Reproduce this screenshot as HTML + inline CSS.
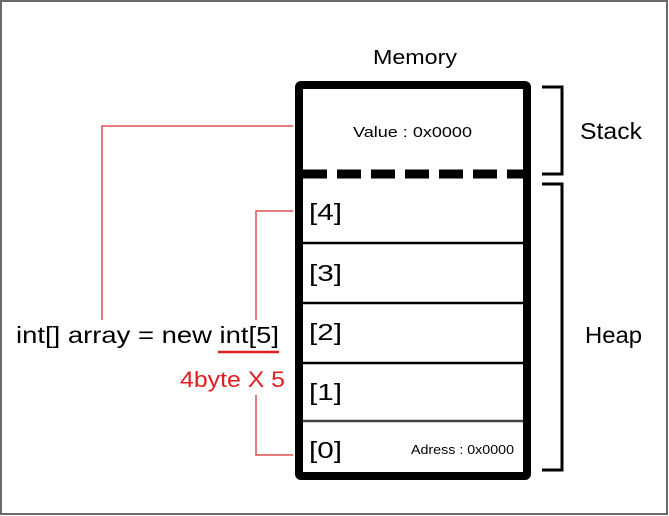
<!DOCTYPE html>
<html><head><meta charset="utf-8"><style>
html,body{margin:0;padding:0;background:#fff}
svg{display:block}
text{font-family:"Liberation Sans",sans-serif}
</style></head><body>
<svg width="669" height="516" viewBox="0 0 669 516" xmlns="http://www.w3.org/2000/svg">
<rect x="1" y="1" width="666" height="513" fill="#fff" stroke="#6a6a6a" stroke-width="2"/>
<text x="373" y="64" font-size="20" textLength="84" lengthAdjust="spacingAndGlyphs" fill="#000">Memory</text>
<g stroke="#000" stroke-width="2.5">
<line x1="303" y1="243" x2="523" y2="243"/>
<line x1="303" y1="303" x2="523" y2="303"/>
<line x1="303" y1="363" x2="523" y2="363"/>
<line x1="303" y1="421" x2="523" y2="421" stroke="#444"/>
</g>
<line x1="303" y1="174" x2="523" y2="174" stroke="#000" stroke-width="9" stroke-dasharray="24,10"/>
<rect x="299" y="85" width="228" height="391" rx="2" fill="none" stroke="#000" stroke-width="8"/>
<text x="353" y="137" font-size="15" textLength="119" lengthAdjust="spacingAndGlyphs">Value : 0x0000</text>
<g font-size="23">
<text x="309" y="220" textLength="33" lengthAdjust="spacingAndGlyphs">[4]</text>
<text x="309" y="281" textLength="33" lengthAdjust="spacingAndGlyphs">[3]</text>
<text x="309" y="340" textLength="33" lengthAdjust="spacingAndGlyphs">[2]</text>
<text x="309" y="400" textLength="33" lengthAdjust="spacingAndGlyphs">[1]</text>
<text x="309" y="458" textLength="33" lengthAdjust="spacingAndGlyphs">[0]</text>
</g>
<text x="411" y="454" font-size="13" textLength="103" lengthAdjust="spacingAndGlyphs">Adress : 0x0000</text>
<g fill="none" stroke="#000" stroke-width="3">
<polyline points="542,87 562,87 562,174 542,174"/>
<polyline points="542,184 562,184 562,470 542,470"/>
</g>
<text x="580" y="139" font-size="23" textLength="62" lengthAdjust="spacingAndGlyphs">Stack</text>
<text x="585" y="343" font-size="23" textLength="57" lengthAdjust="spacingAndGlyphs">Heap</text>
<g fill="none" stroke="#e05050" stroke-width="1.5">
<polyline points="293,126 102,126 102,320"/>
<polyline points="293,211 256,211 256,320"/>
<polyline points="256,395 256,455 293,455"/>
</g>
<line x1="218" y1="352" x2="279" y2="352" stroke="#e02020" stroke-width="2.5"/>
<text x="16" y="343" font-size="23" textLength="263" lengthAdjust="spacingAndGlyphs" fill="#000">int[] array = new int[5]</text>
<text x="180" y="387" font-size="22" textLength="105" lengthAdjust="spacingAndGlyphs" fill="#e02020">4byte X 5</text>
</svg>
</body></html>
